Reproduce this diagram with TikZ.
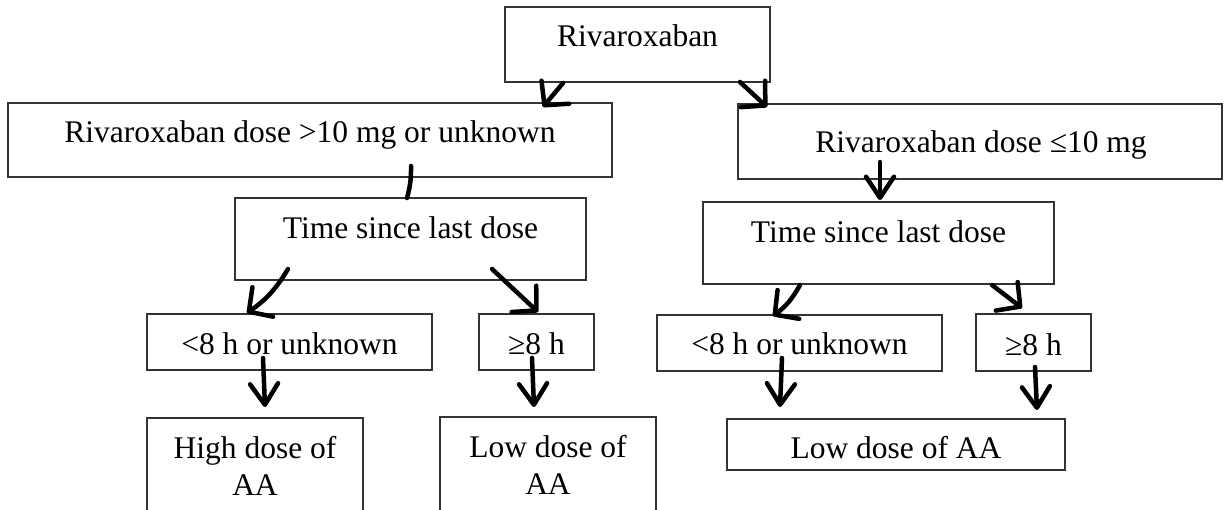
\documentclass[tikz,border=0pt]{standalone}
\usepackage{fontspec}
\setmainfont{Liberation Serif}
\usetikzlibrary{arrows.meta}
\begin{document}
\begin{tikzpicture}[x=1pt,y=-1pt,
  box/.style={draw=black!80, line width=1.3pt, inner sep=0pt, outer sep=0pt, anchor=north west},
  txt/.style={font=\fontsize{31.5}{37}\selectfont, inner sep=0pt, anchor=base, align=center},
  conn/.style={line width=4.5pt, line cap=round, line join=round},
  arw/.style={conn, -{Straight Barb[length=17pt,width=36pt,round]}},
  arwn/.style={conn, -{Straight Barb[length=21pt,width=28pt,round]}}]
\useasboundingbox (0,0) rectangle (1224,510);
\fill[white] (0,0) rectangle (1224,510);
\clip (0,0) rectangle (1224,510);
% boxes
\node[box, minimum width=265pt, minimum height=75pt] (riv) at (505,7) {};
\node[box, minimum width=604pt, minimum height=74pt] (ldose) at (8,103) {};
\node[box, minimum width=484pt, minimum height=75pt] (rdose) at (738,104) {};
\node[box, minimum width=351pt, minimum height=82pt] (ltime) at (235,198) {};
\node[box, minimum width=351pt, minimum height=82pt] (rtime) at (703,202) {};
\node[box, minimum width=285pt, minimum height=56pt] (lshort) at (147,314) {};
\node[box, minimum width=115pt, minimum height=56pt] (llong) at (479,314) {};
\node[box, minimum width=285pt, minimum height=56pt] (rshort) at (657,315) {};
\node[box, minimum width=115pt, minimum height=57pt] (rlong) at (976,314) {};
\node[box, minimum width=216pt, minimum height=115pt] (high) at (147,418) {};
\node[box, minimum width=216pt, minimum height=115pt] (lowl) at (440,417) {};
\node[box, minimum width=338pt, minimum height=51pt] (lowr) at (727,419) {};
% texts
\node[txt] (rivT) at (637.5,47) {Rivaroxaban};
\node[txt] (ldoseT) at (310,143) {Rivaroxaban dose >10 mg or unknown};
\node[txt] (rdoseT) at (981,153) {Rivaroxaban dose ≤10 mg};
\node[txt] (ltimeT) at (410.5,239) {Time since last dose};
\node[txt] (rtimeT) at (878.5,243) {Time since last dose};
\node[txt] (lshortT) at (289.5,355) {<8 h or unknown};
\node[txt] (llongT) at (536.5,355) {≥8 h};
\node[txt] (rshortT) at (799.5,355) {<8 h or unknown};
\node[txt] (rlongT) at (1033.5,356) {≥8 h};
\node[txt] (highT) at (255,495) {High dose of\\AA};
\node[txt] (lowlT) at (548,494) {Low dose of\\AA};
\node[txt] (lowrT) at (896,458) {Low dose of AA};
% connectors
\draw[arw] ([shift={(58,1)}]riv.south west) -- ([shift={(535,4)}]ldose.north west);
\draw[arw] ([shift={(235,0)}]riv.south west) -- ([shift={(29,3)}]rdose.north west);
\draw[conn] ([shift={(403,63)}]ldose.north west) to[bend left=8] ([shift={(172,0)}]ltime.north west);
\draw[arwn] ([shift={(142,58)}]rdose.north west) -- ([shift={(177,-2)}]rtime.north west);
\draw[arw] ([shift={(53,-11)}]ltime.south west) to[bend left=12] ([shift={(100,-1)}]lshort.north west);
\draw[arw] ([shift={(257,-11)}]ltime.south west) -- ([shift={(59,-2)}]llong.north west);
\draw[arw] ([shift={(97,1)}]rtime.south west) to[bend left=12] ([shift={(116,1)}]rshort.north west);
\draw[arw] ([shift={(289,1)}]rtime.south west) -- ([shift={(46,-6)}]rlong.north west);
\draw[arwn] ([shift={(116,-12)}]lshort.south west) -- ([shift={(118,-11)}]high.north west);
\draw[arwn] ([shift={(53,-12)}]llong.south west) -- ([shift={(94,-10)}]lowl.north west);
\draw[arwn] ([shift={(125,-13)}]rshort.south west) -- ([shift={(53,-12)}]lowr.north west);
\draw[arwn] ([shift={(59,-4)}]rlong.south west) -- ([shift={(310,-9)}]lowr.north west);
\end{tikzpicture}
\end{document}
